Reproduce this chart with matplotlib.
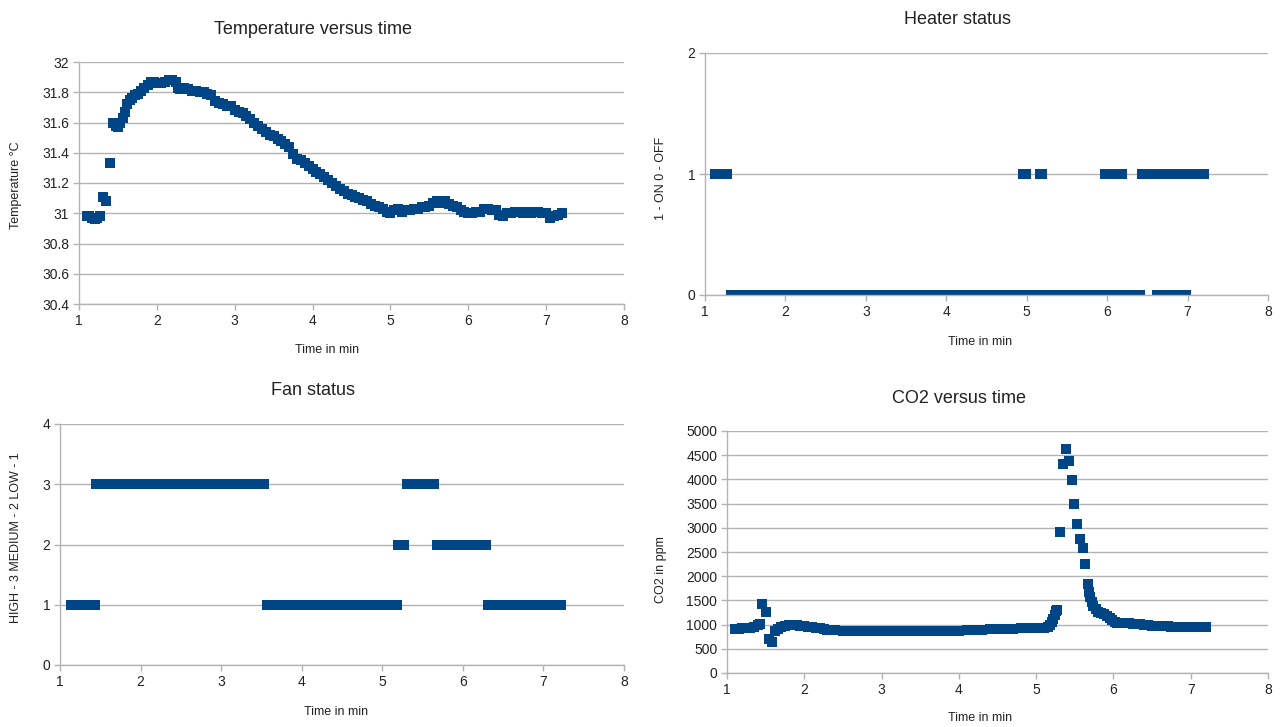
import matplotlib
matplotlib.use("Agg")
import matplotlib.pyplot as plt
from matplotlib.ticker import FuncFormatter

plt.rcParams["font.family"] = ["Liberation Sans", "DejaVu Sans"]

# ---- data ----
temp_time = [1.10, 1.13, 1.17, 1.20, 1.23, 1.27, 1.31, 1.35, 1.40, 1.44, 1.47, 1.50, 1.53, 1.56,
             1.59, 1.62, 1.65, 1.68, 1.72, 1.76, 1.80, 1.84, 1.88, 1.92, 1.96, 2.00, 2.05, 2.10,
             2.15, 2.20, 2.24, 2.27, 2.30, 2.35, 2.40, 2.45, 2.50, 2.55, 2.60, 2.65, 2.70, 2.75,
             2.80, 2.85, 2.90, 2.95, 3.00, 3.05, 3.10, 3.15, 3.20, 3.25, 3.30, 3.35, 3.40, 3.45,
             3.50, 3.55, 3.60, 3.65, 3.70, 3.75, 3.80, 3.85, 3.90, 3.95, 4.00, 4.05, 4.10, 4.15,
             4.20, 4.25, 4.30, 4.35, 4.40, 4.45, 4.50, 4.55, 4.60, 4.65, 4.70, 4.75, 4.80, 4.85,
             4.90, 4.95, 5.00, 5.05, 5.10, 5.15, 5.20, 5.25, 5.30, 5.35, 5.40, 5.45, 5.50, 5.55,
             5.60, 5.65, 5.70, 5.75, 5.80, 5.85, 5.90, 5.95, 6.00, 6.05, 6.10, 6.15, 6.20, 6.25,
             6.30, 6.35, 6.40, 6.45, 6.50, 6.55, 6.60, 6.65, 6.70, 6.75, 6.80, 6.85, 6.90, 6.95,
             7.00, 7.05, 7.10, 7.15, 7.20]
temp_c = [30.98, 30.98, 30.97, 30.96, 30.97, 30.98, 31.11, 31.08, 31.33, 31.60, 31.58, 31.57, 31.60, 31.63,
          31.67, 31.72, 31.75, 31.76, 31.78, 31.79, 31.81, 31.83, 31.85, 31.87, 31.87, 31.86, 31.86, 31.87,
          31.88, 31.88, 31.87, 31.83, 31.82, 31.83, 31.82, 31.81, 31.81, 31.80, 31.80, 31.79, 31.78, 31.74,
          31.73, 31.72, 31.71, 31.71, 31.68, 31.67, 31.66, 31.64, 31.62, 31.60, 31.58, 31.56, 31.54, 31.52,
          31.51, 31.49, 31.48, 31.46, 31.44, 31.39, 31.36, 31.35, 31.33, 31.31, 31.29, 31.27, 31.26, 31.24,
          31.22, 31.20, 31.18, 31.16, 31.15, 31.13, 31.12, 31.11, 31.10, 31.09, 31.08, 31.06, 31.05, 31.04,
          31.03, 31.01, 31.00, 31.02, 31.03, 31.01, 31.02, 31.02, 31.03, 31.03, 31.04, 31.04, 31.05, 31.07,
          31.08, 31.07, 31.08, 31.06, 31.05, 31.04, 31.02, 31.01, 31.00, 31.00, 31.01, 31.01, 31.03, 31.03,
          31.02, 31.02, 30.99, 30.98, 31.00, 31.00, 31.01, 31.01, 31.00, 31.01, 31.00, 31.01, 31.01, 31.00,
          31.00, 30.97, 30.98, 30.99, 31.00]

heater_time = [1.13, 1.18, 1.22, 1.27,
               4.955, 4.985, 5.165, 5.185,
               5.975, 6.02, 6.07, 6.12, 6.185,
               6.435, 6.48, 6.53, 6.58, 6.63, 6.68, 6.73, 6.78, 6.83, 6.88, 6.93, 6.98, 7.03,
               7.08, 7.13, 7.18, 7.205,
               1.32, 1.37, 1.42, 1.47, 1.52, 1.57, 1.62, 1.67, 1.72, 1.77, 1.82, 1.87, 1.92, 1.97,
               2.02, 2.07, 2.12, 2.17, 2.22, 2.27, 2.32, 2.37, 2.42, 2.47, 2.52, 2.57, 2.62, 2.67,
               2.72, 2.77, 2.82, 2.87, 2.92, 2.97, 3.02, 3.07, 3.12, 3.17, 3.22, 3.27, 3.32, 3.37,
               3.42, 3.47, 3.52, 3.57, 3.62, 3.67, 3.72, 3.77, 3.82, 3.87, 3.92, 3.97, 4.02, 4.07,
               4.12, 4.17, 4.22, 4.27, 4.32, 4.37, 4.42, 4.47, 4.52, 4.57, 4.62, 4.67, 4.72, 4.77,
               4.82, 4.87, 4.92, 4.97, 5.02, 5.07, 5.12, 5.17, 5.22, 5.27, 5.32, 5.37, 5.42, 5.47,
               5.52, 5.57, 5.62, 5.67, 5.72, 5.77, 5.82, 5.87, 5.92, 5.97, 6.02, 6.07, 6.12, 6.17,
               6.22, 6.27, 6.32, 6.37, 6.41,
               6.62, 6.66, 6.70, 6.75, 6.80, 6.85, 6.90, 6.94, 6.98]
heater_state = [1] * 30 + [0] * 103 + [0] * 9

fan_time = [1.135, 1.18, 1.23, 1.28, 1.33, 1.38, 1.435,
            1.445, 1.50, 1.55, 1.60, 1.65, 1.70, 1.75, 1.80, 1.85, 1.90, 1.95, 2.00, 2.05, 2.10,
            2.15, 2.20, 2.25, 2.30, 2.35, 2.40, 2.45, 2.50, 2.55, 2.60, 2.65, 2.70, 2.75, 2.80,
            2.85, 2.90, 2.95, 3.00, 3.05, 3.10, 3.15, 3.20, 3.25, 3.30, 3.35, 3.40, 3.45, 3.50, 3.535,
            3.565, 3.61, 3.66, 3.71, 3.76, 3.81, 3.86, 3.91, 3.96, 4.01, 4.06, 4.11, 4.16, 4.21,
            4.26, 4.31, 4.36, 4.41, 4.46, 4.51, 4.56, 4.61, 4.66, 4.71, 4.76, 4.81, 4.86, 4.91,
            4.96, 5.01, 5.06, 5.11, 5.16, 5.185,
            5.195, 5.235, 5.275,
            5.305, 5.35, 5.40, 5.45, 5.50, 5.55, 5.60, 5.645,
            5.675, 5.72, 5.77, 5.82, 5.87, 5.92, 5.97, 6.02, 6.07, 6.12, 6.17, 6.22, 6.285,
            6.315, 6.36, 6.41, 6.46, 6.51, 6.56, 6.61, 6.66, 6.71, 6.76, 6.81, 6.86, 6.91, 6.96,
            7.01, 7.06, 7.11, 7.16, 7.215]
fan_level = ([1] * 7 + [3] * 43 + [1] * 34 + [2] * 3 + [3] * 8 + [2] * 13 + [1] * 19)

co2_time = [1.10, 1.15, 1.20, 1.25, 1.30, 1.35, 1.40, 1.43, 1.45, 1.50, 1.54, 1.58, 1.62, 1.66,
            1.70, 1.75, 1.80, 1.85, 1.90, 1.95, 2.00, 2.05, 2.10, 2.15, 2.20, 2.25, 2.30, 2.35,
            2.40, 2.50, 2.60, 2.70, 2.80, 2.90, 3.00, 3.10, 3.20, 3.30, 3.40, 3.50, 3.60, 3.70,
            3.80, 3.90, 4.00, 4.10, 4.20, 4.30, 4.40, 4.50, 4.60, 4.70, 4.80, 4.90, 5.00, 5.05,
            5.10, 5.15, 5.18, 5.20, 5.22, 5.24, 5.26, 5.27, 5.31, 5.35, 5.385, 5.42, 5.46, 5.49,
            5.53, 5.57, 5.60, 5.635, 5.665, 5.68, 5.70, 5.72, 5.74, 5.77, 5.80, 5.84, 5.88, 5.92,
            5.95, 5.98, 6.02, 6.05, 6.10, 6.15, 6.20, 6.25, 6.30, 6.35, 6.40, 6.45, 6.50, 6.55,
            6.60, 6.65, 6.70, 6.75, 6.80, 6.85, 6.90, 6.95, 7.00, 7.05, 7.10, 7.15, 7.20]
co2_ppm = [910, 915, 920, 930, 940, 960, 1000, 1010, 1430, 1270, 700, 650, 870, 910,
           950, 975, 985, 990, 985, 975, 965, 955, 945, 935, 925, 915, 895, 885,
           880, 875, 872, 870, 870, 868, 870, 868, 866, 868, 870, 868, 870, 870,
           872, 872, 875, 880, 885, 895, 905, 910, 915, 918, 920, 922, 925, 925,
           930, 960, 1000, 1060, 1120, 1200, 1280, 1300, 2910, 4320, 4625, 4390, 3985, 3490,
           3080, 2760, 2575, 2250, 1830, 1680, 1560, 1460, 1380, 1320, 1270, 1240, 1210, 1180,
           1140, 1090, 1050, 1040, 1030, 1030, 1025, 1020, 1010, 1005, 995, 985, 975, 970,
           968, 965, 962, 960, 955, 952, 950, 948, 946, 945, 944, 943, 942]

BLUE = "#004586"
GRID = "#b3b3b3"
W, H = 1280, 727

fig = plt.figure(figsize=(12.8, 7.27), dpi=100, facecolor="white")


def px_box(x0, x1, ytop, ybot):
    return [x0 / W, 1 - ybot / H, (x1 - x0) / W, (ybot - ytop) / H]


def style(ax, ylim, yticks):
    ax.set_xlim(1, 8)
    ax.set_ylim(*ylim)
    ax.set_xticks(range(1, 9))
    ax.set_yticks(yticks)
    ax.yaxis.set_major_formatter(FuncFormatter(lambda v, p: f"{v:g}"))
    ax.grid(axis="y", color=GRID, linewidth=1)
    ax.set_axisbelow(True)
    for s in ("top", "right"):
        ax.spines[s].set_visible(False)
    for s in ("left", "bottom"):
        ax.spines[s].set_color(GRID)
        ax.spines[s].set_linewidth(1)
    ax.tick_params(colors=GRID, labelcolor="#222222", labelsize=10, length=4.5, width=1, pad=2.5)


def text(x, y, s, size, rot=0):
    fig.text(x / W, 1 - y / H, s, ha="center", va="center", fontsize=size,
             rotation=rot, color="#222222")


mk = dict(linestyle="none", marker="s", markersize=7.6, markeredgewidth=0, color=BLUE)

# Temperature
ax1 = fig.add_axes(px_box(79, 624, 62, 304))
ax1.plot(temp_time, temp_c, **mk)
style(ax1, (30.4, 32), [30.4 + 0.2 * i for i in range(9)])
text(313, 29, "Temperature versus time", 13)
text(327, 350, "Time in min", 9)
text(16, 185, "Temperature °C", 9, 90)

# Heater
ax2 = fig.add_axes(px_box(705, 1268, 53, 295))
ax2.plot(heater_time, heater_state, **mk)
style(ax2, (0, 2), [0, 1, 2])
text(958, 20, "Heater status", 13)
text(980, 342, "Time in min", 9)
text(661, 178, "1 - ON 0 - OFF", 9, 90)

# Fan
ax3 = fig.add_axes(px_box(60, 624, 424, 665))
ax3.plot(fan_time, fan_level, **mk)
style(ax3, (0, 4), [0, 1, 2, 3, 4])
text(313, 390, "Fan status", 13)
text(336, 712, "Time in min", 9)
text(16, 538, "HIGH - 3 MEDIUM - 2 LOW - 1", 9, 90)

# CO2
ax4 = fig.add_axes(px_box(727, 1268, 431, 673))
ax4.plot(co2_time, co2_ppm, **mk)
style(ax4, (0, 5000), list(range(0, 5001, 500)))
text(959, 398, "CO2 versus time", 13)
text(980, 718, "Time in min", 9)
text(661, 570, "CO2 in ppm", 9, 90)

fig.savefig("out.png", dpi=100, facecolor="white")
